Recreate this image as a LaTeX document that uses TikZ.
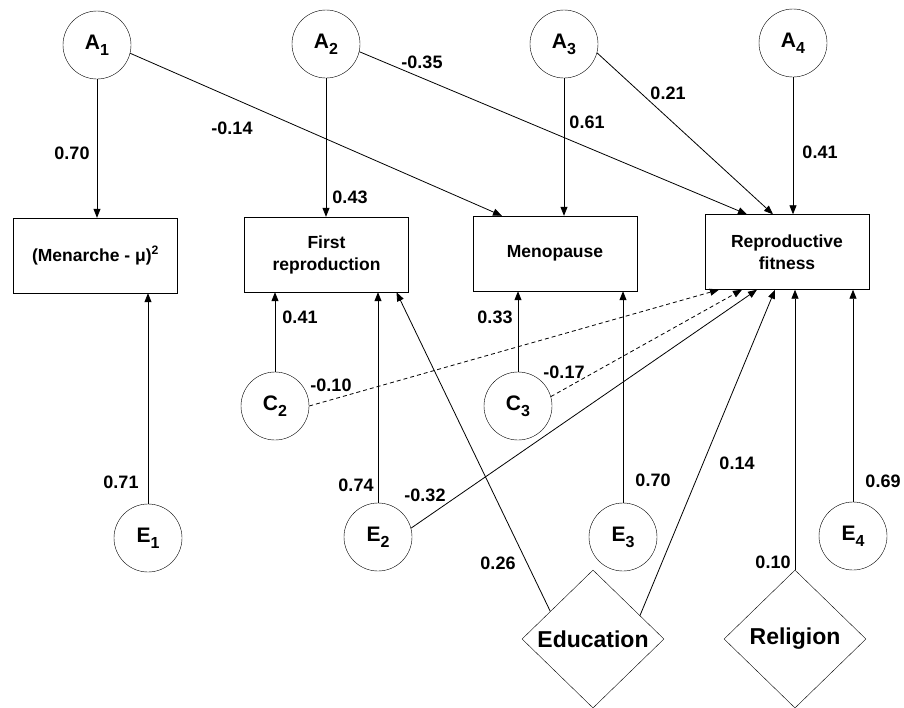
\documentclass[tikz,border=0pt]{standalone}
\usepackage{fontspec}
\setmainfont{Liberation Sans}
\usetikzlibrary{shapes.geometric,arrows.meta,positioning,calc}
\newcommand{\lv}[2]{#1\raisebox{-6pt}{\fontsize{16}{16}\selectfont #2}}

\begin{document}
\begin{tikzpicture}[x=1pt, y=-1pt,
    latent/.style={draw=black, circle, minimum size=68pt, inner sep=0pt, font=\fontsize{21}{21}\selectfont\bfseries},
    obs/.style={draw=black, minimum width=164pt, minimum height=75pt, align=center, inner sep=2pt, font=\fontsize{17.5}{22}\selectfont\bfseries},
    covar/.style={draw=black, diamond, minimum width=142pt, minimum height=138pt, inner sep=0pt, font=\fontsize{23}{23}\selectfont\bfseries},
    effect/.style={-{Triangle[length=9pt, width=7pt]}, line width=0.8pt, black},
    weak/.style={effect, dash pattern=on 4pt off 3pt},
    coef/.style={font=\fontsize{18}{18}\selectfont\bfseries, inner sep=1pt}
]
\useasboundingbox (0,0) rectangle (904,707);
% latent factors (additive genetic)
\node[latent] (A1) at (97,45) {\lv{A}{1}};
\node[latent] (A2) at (326,44) {\lv{A}{2}};
\node[latent] (A3) at (564,44) {\lv{A}{3}};
\node[latent] (A4) at (793,43) {\lv{A}{4}};
% observed traits
\node[obs] (menarche) at (95.5,255.5) {(Menarche - μ)\textsuperscript{2}};
\node[obs] (firstrep) at (326.5,254.5) {First\\reproduction};
\node[obs] (meno) at (555,253.5) {Menopause};
\node[obs] (fit) at (787,252) {Reproductive\\fitness};
% shared and unique environment
\node[latent] (C2) at (275,406) {\lv{C}{2}};
\node[latent] (C3) at (518,406) {\lv{C}{3}};
\node[latent] (E1) at (148,538) {\lv{E}{1}};
\node[latent] (E2) at (378,537) {\lv{E}{2}};
\node[latent] (E3) at (623,537) {\lv{E}{3}};
\node[latent] (E4) at (853,536) {\lv{E}{4}};
% covariates
\node[covar] (edu) at (593,639) {Education};
\node[covar] (rel) at (795,639) {Religion};

% paths from A
\draw[effect] (A1) -- (A1 |- menarche.north);
\draw[effect] (A1.-14) -- ([xshift=-53pt]meno.north);
\draw[effect] (A2) -- (A2 |- firstrep.north);
\draw[effect] (A2.-13) -- ([xshift=-40pt]fit.north);
\draw[effect] (A3) -- (A3 |- meno.north);
\draw[effect] (A3.-15) -- ([xshift=-14pt]fit.north);
\draw[effect] (A4) -- (A4 |- fit.north);
% paths from C and E
\draw[effect] (E1) -- (E1 |- menarche.south);
\draw[effect] (C2) -- (C2 |- firstrep.south);
\draw[effect] (E2) -- (E2 |- firstrep.south);
\draw[weak] (C2.east) -- ([xshift=-68pt]fit.south);
\draw[effect] (C3) -- (C3 |- meno.south);
\draw[weak] (C3.16) -- ([xshift=-45pt]fit.south);
\draw[effect] (E2.15) -- ([xshift=-30pt]fit.south);
\draw[effect] (E3) -- (E3 |- meno.south);
\draw[effect] (E4) -- (E4 |- fit.south);
% paths from covariates
\draw[effect] ($(edu.west)!0.4!(edu.north)$) -- ([xshift=70pt]firstrep.south);
\draw[effect] ($(edu.north)!0.66!(edu.east)$) -- ([xshift=-12pt]fit.south);
\draw[effect] (rel.north) -- (rel.north |- fit.south);

% coefficients
\node[coef] (k-a1men) at (72,153) {0.70};
\node[coef] (k-a1meno) at (232,128) {-0.14};
\node[coef] (k-a2fr) at (350,197) {0.43};
\node[coef] (k-a2fit) at (422,62) {-0.35};
\node[coef] (k-a3meno) at (587,122) {0.61};
\node[coef] (k-a3fit) at (668,93) {0.21};
\node[coef] (k-a4fit) at (820,152) {0.41};
\node[coef] (k-c2fr) at (300,317) {0.41};
\node[coef] (k-c3meno) at (495,317) {0.33};
\node[coef] (k-c2fit) at (331,385) {-0.10};
\node[coef] (k-c3fit) at (564,372) {-0.17};
\node[coef] (k-e1men) at (121,482) {0.71};
\node[coef] (k-e2fr) at (356,485) {0.74};
\node[coef] (k-e2fit) at (425,495) {-0.32};
\node[coef] (k-e3meno) at (653,480) {0.70};
\node[coef] (k-edufit) at (737,463) {0.14};
\node[coef] (k-e4fit) at (883,481) {0.69};
\node[coef] (k-edufr) at (498,563) {0.26};
\node[coef] (k-relfit) at (773,562) {0.10};
\end{tikzpicture}
\end{document}
